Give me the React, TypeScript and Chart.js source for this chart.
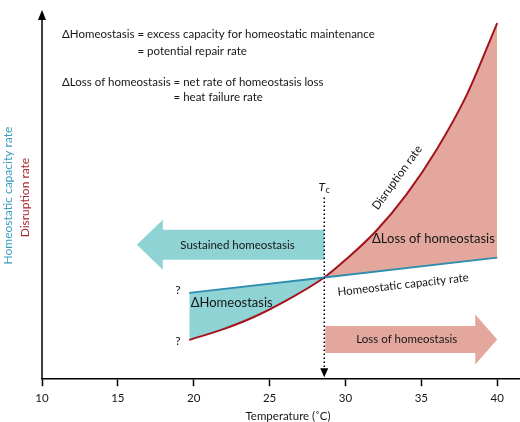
import { useEffect, useRef } from "react";
import { Chart, registerables } from "chart.js";

Chart.register(...registerables);

// ---- data ----
const DISRUPTION_TEMPS = [19.7, 22, 24, 26, 28.6, 30, 32, 34, 36, 38, 40];
const DISRUPTION_RATE = [10.7, 13.7, 17.0, 21.2, 27.7, 32.5, 40.3, 50.2, 62.5, 77.5, 97];
const CAPACITY_TEMPS = [19.7, 28.6, 40];
const CAPACITY_RATE = [23.5, 27.7, 33.1];
const X_TICKS = [10, 15, 20, 25, 30, 35, 40];
const X_TITLE = "Temperature (˚C)";
const X_MIN = 10;
const X_MAX = 41.5;
const Y_MIN = 0;
const Y_MAX = 100;
const TC = 28.6;
const TC_TOP = 49.5;
const SUSTAIN_TIP = 16.25;
const SUSTAIN_Y = 36.6;
const LOSS_TIP = 40;
const LOSS_Y = 10.8;

// ---- styles ----
const FONT = "Lato, 'Open Sans', sans-serif";
const TEAL_LINE = "#2f8db0";
const TEAL_FILL = "#8fd3d5";
const TEAL_TEXT = "#3a9cc0";
const RED_LINE = "#a3141f";
const RED_FILL = "#e3a79d";
const RED_TEXT = "#a82a33";
const TEXT = "#161616";

function blockArrow(
  ctx: CanvasRenderingContext2D,
  x0: number,
  x1: number,
  yc: number,
  bh: number,
  hh: number,
  hl: number,
  color: string
) {
  const dir = Math.sign(x1 - x0);
  const base = x1 - dir * hl;
  ctx.beginPath();
  ctx.moveTo(x0, yc - bh);
  ctx.lineTo(base, yc - bh);
  ctx.lineTo(base, yc - hh);
  ctx.lineTo(x1, yc);
  ctx.lineTo(base, yc + hh);
  ctx.lineTo(base, yc + bh);
  ctx.lineTo(x0, yc + bh);
  ctx.closePath();
  ctx.fillStyle = color;
  ctx.fill();
}

export default function App() {
  const ref = useRef<HTMLCanvasElement>(null);

  useEffect(() => {
    const canvas = ref.current!;
    const annot = {
      id: "annot",
      afterDatasetsDraw(chart: any) {
        const { ctx, chartArea: ca, scales } = chart;
        const xs = scales.x;
        const ys = scales.y;
        const px = (t: number) => xs.getPixelForValue(t);
        const py = (v: number) => ys.getPixelForValue(v);
        ctx.save();

        // block arrows
        blockArrow(ctx, px(TC), px(SUSTAIN_TIP), py(SUSTAIN_Y), 15, 25, 26, TEAL_FILL);
        blockArrow(ctx, px(TC) + 1, px(LOSS_TIP), py(LOSS_Y), 13.5, 25, 22, RED_FILL);

        ctx.fillStyle = TEXT;
        ctx.textBaseline = "middle";
        ctx.font = `11.5px ${FONT}`;
        ctx.textAlign = "center";
        ctx.fillText("Sustained homeostasis", (px(SUSTAIN_TIP) + px(TC)) / 2 + 7, py(SUSTAIN_Y));
        ctx.fillText("Loss of homeostasis", (px(TC) + px(LOSS_TIP)) / 2 - 4, py(LOSS_Y));

        // header definitions
        ctx.textAlign = "left";
        const hx = px(11.32);
        const p1 = "ΔHomeostasis ";
        const p2 = "ΔLoss of homeostasis ";
        ctx.fillText(p1 + "= excess capacity for homeostatic maintenance", hx, py(94.0));
        ctx.fillText("= potential repair rate", hx + ctx.measureText(p1).width, py(89.3));
        ctx.fillText(p2 + "= net rate of homeostasis loss", hx, py(80.9));
        ctx.fillText("= heat failure rate", hx + ctx.measureText(p2).width, py(76.8));

        // area labels
        ctx.font = `13px ${FONT}`;
        ctx.fillText("ΔHomeostasis", px(19.8), py(20.8));
        ctx.fillText("ΔLoss of homeostasis", px(31.75), py(38.3));
        ctx.font = `12px ${FONT}`;
        ctx.textAlign = "center";
        ctx.fillText("?", px(18.95), py(24.3));
        ctx.fillText("?", px(18.95), py(10.4));

        // curve labels
        ctx.font = `11.5px ${FONT}`;
        ctx.save();
        ctx.translate(px(33.4), py(54.9));
        ctx.rotate((-54 * Math.PI) / 180);
        ctx.fillText("Disruption rate", 0, 0);
        ctx.restore();
        ctx.save();
        ctx.translate(px(33.8), py(25.7));
        ctx.rotate((-6.4 * Math.PI) / 180);
        ctx.fillText("Homeostatic capacity rate", 0, 0);
        ctx.restore();

        // Tc dotted line
        const tx = px(TC);
        ctx.strokeStyle = "#000";
        ctx.lineWidth = 1.5;
        ctx.setLineDash([1.5, 2.5]);
        ctx.beginPath();
        ctx.moveTo(tx, py(TC_TOP));
        ctx.lineTo(tx, ca.bottom - 9);
        ctx.stroke();
        ctx.setLineDash([]);
        ctx.fillStyle = "#000";
        ctx.beginPath();
        ctx.moveTo(tx - 4, ca.bottom - 11);
        ctx.lineTo(tx + 4, ca.bottom - 11);
        ctx.lineTo(tx, ca.bottom - 2);
        ctx.closePath();
        ctx.fill();
        ctx.fillStyle = TEXT;
        ctx.font = `italic 12px ${FONT}`;
        ctx.textAlign = "center";
        ctx.fillText("T", tx - 2.5, py(TC_TOP) - 10);
        ctx.font = `9px ${FONT}`;
        ctx.fillText("c", tx + 3.5, py(TC_TOP) - 7);

        // y axis arrow
        ctx.strokeStyle = "#000";
        ctx.lineWidth = 1.5;
        ctx.beginPath();
        ctx.moveTo(ca.left, ca.bottom);
        ctx.lineTo(ca.left, ca.top + 4);
        ctx.stroke();
        ctx.fillStyle = "#000";
        ctx.beginPath();
        ctx.moveTo(ca.left - 4, ca.top + 8);
        ctx.lineTo(ca.left + 4, ca.top + 8);
        ctx.lineTo(ca.left, ca.top - 2);
        ctx.closePath();
        ctx.fill();

        // y axis titles
        ctx.font = `12px ${FONT}`;
        ctx.textAlign = "center";
        const mid = (ca.top + ca.bottom) / 2;
        ctx.save();
        ctx.translate(ca.left - 34, mid);
        ctx.rotate(-Math.PI / 2);
        ctx.fillStyle = TEAL_TEXT;
        ctx.fillText("Homeostatic capacity rate", 0, 0);
        ctx.restore();
        ctx.save();
        ctx.translate(ca.left - 17, mid + 2);
        ctx.rotate(-Math.PI / 2);
        ctx.fillStyle = RED_TEXT;
        ctx.fillText("Disruption rate", 0, 0);
        ctx.restore();

        // x axis title
        ctx.fillStyle = TEXT;
        ctx.font = `11.5px ${FONT}`;
        ctx.fillText(X_TITLE, (ca.left + ca.right) / 2 + 7, ca.bottom + 37);

        ctx.restore();
      },
    };

    const chart = new Chart(canvas, {
      type: "line",
      data: {
        datasets: [
          {
            label: "Homeostatic capacity rate",
            data: CAPACITY_TEMPS.map((t, i) => ({ x: t, y: CAPACITY_RATE[i] })),
            borderColor: TEAL_LINE,
            borderWidth: 1.8,
            pointRadius: 0,
            fill: false,
          },
          {
            label: "Disruption rate",
            data: DISRUPTION_TEMPS.map((t, i) => ({ x: t, y: DISRUPTION_RATE[i] })),
            borderColor: RED_LINE,
            borderWidth: 2,
            pointRadius: 0,
            cubicInterpolationMode: "monotone",
            fill: { target: 0, above: RED_FILL, below: TEAL_FILL },
          },
        ],
      },
      options: {
        animation: false,
        responsive: false,
        layout: { padding: { left: 42, right: 0, top: 12, bottom: 12 } },
        plugins: { legend: { display: false }, tooltip: { enabled: false } },
        scales: {
          x: {
            type: "linear",
            min: X_MIN,
            max: X_MAX,
            afterBuildTicks: (s: any) => {
              s.ticks = X_TICKS.map((v) => ({ value: v }));
            },
            grid: {
              display: true,
              drawOnChartArea: false,
              drawTicks: true,
              tickLength: 7,
              tickWidth: 1.5,
              color: "#000",
            },
            border: { display: true, color: "#000", width: 1.5 },
            ticks: { color: TEXT, font: { family: FONT, size: 11.5 }, padding: 5, maxRotation: 0 },
          },
          y: { display: false, min: Y_MIN, max: Y_MAX },
        },
      },
      plugins: [annot],
    } as any);
    return () => chart.destroy();
  }, []);

  return (
    <div style={{ position: "fixed", left: 0, top: 0, width: 520, height: 422, background: "#fff" }}>
      <canvas ref={ref} width={520} height={422} style={{ display: "block" }} />
    </div>
  );
}
